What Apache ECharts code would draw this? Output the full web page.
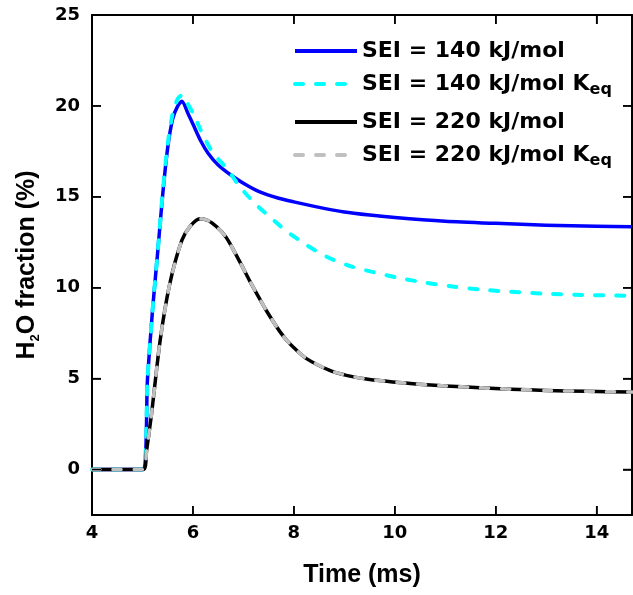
<!DOCTYPE html>
<html>
<head>
<meta charset="utf-8">
<script src="https://cdn.jsdelivr.net/npm/echarts@6/dist/echarts.min.js"></script>
<style>html,body{margin:0;padding:0;background:#fff}#c{width:633px;height:595px}</style>
</head>
<body>
<div id="c"></div>
<script>
// ---- data ----
const seriesNames = ['SEI = 140 kJ/mol', 'SEI = 140 kJ/mol Keq', 'SEI = 220 kJ/mol', 'SEI = 220 kJ/mol Keq'];
const xTicks = [4, 6, 8, 10, 12, 14];
const yTicks = [0, 5, 10, 15, 20, 25];
const xRange = [4, 14.7];
const yRange = [-2.5, 25];

const t140 = [4, 5, 5.1, 5.2, 5.3, 5.4, 5.5, 5.6, 5.7, 5.78, 5.9, 6.0, 6.15, 6.3, 6.5, 6.75, 7.0, 7.3, 7.7, 8.0, 8.5, 9.0, 9.5, 10, 11, 12, 13, 14, 14.7];
const v140 = [0, 0, 5, 8.8, 11.9, 15.1, 17.7, 19.3, 20.0, 20.25, 19.6, 19.0, 18.1, 17.4, 16.75, 16.2, 15.75, 15.3, 14.92, 14.72, 14.42, 14.17, 14.0, 13.86, 13.66, 13.54, 13.44, 13.38, 13.35];

const t140keq = [4, 5, 5.1, 5.2, 5.3, 5.4, 5.5, 5.6, 5.7, 5.79, 5.9, 6.0, 6.2, 6.4, 6.67, 6.93, 7.23, 7.52, 7.86, 8.25, 8.65, 9.1, 9.57, 10.06, 10.56, 11.1, 11.68, 12.3, 13.0, 13.8, 14.7];
const v140keq = [0, 0, 5, 8.8, 11.9, 15.2, 17.9, 19.6, 20.4, 20.6, 20.1, 19.6, 18.4, 17.4, 16.56, 15.55, 14.63, 13.9, 13.1, 12.35, 11.7, 11.2, 10.86, 10.55, 10.3, 10.08, 9.9, 9.78, 9.67, 9.6, 9.55];

const t220 = [4, 5.02, 5.08, 5.18, 5.35, 5.54, 5.78, 5.95, 6.14, 6.3, 6.47, 6.65, 6.8, 7.0, 7.13, 7.3, 7.46, 7.6, 7.72, 7.86, 8.0, 8.25, 8.71, 9.04, 9.5, 10.36, 11.0, 11.68, 12.3, 13.0, 13.8, 14.7];
const v220 = [0, 0, 1.0, 3.07, 7.1, 10.2, 12.6, 13.4, 13.8, 13.7, 13.35, 12.8, 12.1, 11.05, 10.35, 9.5, 8.72, 8.1, 7.6, 7.1, 6.7, 6.1, 5.45, 5.18, 4.95, 4.72, 4.6, 4.5, 4.42, 4.35, 4.3, 4.26];

const t220keq = [4, 5.02, 5.08, 5.18, 5.35, 5.54, 5.78, 5.95, 6.14, 6.3, 6.47, 6.65, 6.8, 7.0, 7.13, 7.3, 7.46, 7.6, 7.72, 7.86, 8.0, 8.25, 8.71, 9.04, 9.5, 10.36, 11.0, 11.68, 12.3, 13.0, 13.8, 14.7];
const v220keq = [0, 0, 1.0, 3.07, 7.1, 10.2, 12.6, 13.4, 13.8, 13.7, 13.35, 12.8, 12.1, 11.05, 10.35, 9.5, 8.72, 8.1, 7.6, 7.1, 6.7, 6.1, 5.45, 5.18, 4.95, 4.72, 4.6, 4.5, 4.42, 4.35, 4.3, 4.26];

function pairs(t, v) { return t.map((x, i) => [x, v[i]]); }
function onlyTicks(list) { return (val) => list.some(v => Math.abs(v - val) < 1e-6) ? String(val) : ''; }

const chart = echarts.init(document.getElementById('c'));
const tickFont = {fontFamily: 'DejaVu Sans', fontWeight: 'bold', fontSize: 18, color: '#000'};
const legendText = {
  fontFamily: 'DejaVu Sans', fontWeight: 'bold', fontSize: 22, lineHeight: 28, color: '#000',
  rich: { sub: {fontFamily: 'DejaVu Sans', fontWeight: 'bold', fontSize: 16, lineHeight: 7, verticalAlign: 'bottom', color: '#000'} }
};
function legendFmt(name) { return name.endsWith(' Keq') ? name.slice(0, -3) + 'K{sub|eq}' : name; }
function axisLine() { return {show: true, onZero: false, lineStyle: {color: '#000', width: 2}}; }
function axisTick() { return {show: true, inside: true, length: 9, lineStyle: {color: '#000', width: 1.5}}; }

function line(name, data, color, dashed, width) {
  return {
    name, type: 'line', data, showSymbol: false, symbol: 'none', smooth: 0.25,
    lineStyle: {color, width, type: dashed ? [8, 13] : 'solid', cap: dashed ? 'round' : 'butt', join: 'round'},
    itemStyle: {color}, emphasis: {disabled: true}
  };
}
function legendBase() {
  return {
    orient: 'vertical', left: 288, itemGap: 5, itemWidth: 62, itemHeight: 14,
    formatter: legendFmt, textStyle: legendText, selectedMode: false,
    itemStyle: {opacity: 0}, lineStyle: {width: 4}
  };
}

// Inward tick marks on all four sides, placed through the axes' own scales.
const TICK_LEN = 9;
const tickStyle = {stroke: '#000', lineWidth: 1.5};
function xTickItem(params, api) {
  const b = api.coord([api.value(0), yRange[0]]);
  const t = api.coord([api.value(0), yRange[1]]);
  return {type: 'group', children: [
    {type: 'line', shape: {x1: b[0], y1: b[1], x2: b[0], y2: b[1] - TICK_LEN}, style: tickStyle},
    {type: 'line', shape: {x1: t[0], y1: t[1], x2: t[0], y2: t[1] + TICK_LEN}, style: tickStyle}
  ]};
}
function yTickItem(params, api) {
  const l = api.coord([xRange[0], api.value(1)]);
  const r = api.coord([xRange[1], api.value(1)]);
  return {type: 'group', children: [
    {type: 'line', shape: {x1: l[0], y1: l[1], x2: l[0] + TICK_LEN, y2: l[1]}, style: tickStyle},
    {type: 'line', shape: {x1: r[0], y1: r[1], x2: r[0] - TICK_LEN, y2: r[1]}, style: tickStyle}
  ]};
}

chart.setOption({
  animation: false,
  grid: {left: 92, right: 1, top: 15, bottom: 80, containLabel: false},
  xAxis: [
    {type: 'value', min: xRange[0], max: xRange[1], interval: 2, position: 'bottom', axisLine: axisLine(), splitLine: {show: false}, axisTick: axisTick(),
     axisLabel: Object.assign({margin: 9, showMaxLabel: false, formatter: onlyTicks(xTicks)}, tickFont),
     name: 'Time (ms)', nameLocation: 'middle', nameGap: 48,
     nameTextStyle: {fontFamily: 'Liberation Sans', fontWeight: 'bold', fontSize: 25, color: '#000'}},
    {type: 'value', min: xRange[0], max: xRange[1], interval: 2, position: 'top', axisLine: axisLine(), splitLine: {show: false},
     axisTick: axisTick(), axisLabel: {show: false}}
  ],
  yAxis: [
    {type: 'value', min: yRange[0], max: yRange[1], splitNumber: 5, position: 'left', axisLine: axisLine(), splitLine: {show: false}, axisTick: axisTick(),
     axisLabel: Object.assign({margin: 12, showMinLabel: false, formatter: onlyTicks(yTicks)}, tickFont),
     name: 'H{sub|2}O fraction (%)', nameLocation: 'middle', nameGap: 50,
     nameTextStyle: {fontFamily: 'Liberation Sans', fontWeight: 'bold', fontSize: 25, lineHeight: 30, color: '#000',
       rich: {sub: {fontFamily: 'Liberation Sans', fontWeight: 'bold', fontSize: 13, lineHeight: 13, verticalAlign: 'bottom', color: '#000'}}}},
    {type: 'value', min: yRange[0], max: yRange[1], splitNumber: 5, position: 'right', axisLine: axisLine(), splitLine: {show: false},
     axisTick: axisTick(), axisLabel: {show: false}}
  ],
  legend: [
    Object.assign({data: [seriesNames[0], seriesNames[1]], top: 32}, legendBase()),
    Object.assign({data: [seriesNames[2], seriesNames[3]], top: 103}, legendBase())
  ],
  series: [
    line(seriesNames[0], pairs(t140, v140), '#0000ff', false, 3.5),
    line(seriesNames[1], pairs(t140keq, v140keq), '#00ffff', true, 4),
    line(seriesNames[2], pairs(t220, v220), '#000000', false, 3.5),
    line(seriesNames[3], pairs(t220keq, v220keq), '#c0c0c0', true, 3.5),
    {type: 'custom', name: 'xticks', silent: true, clip: false, z: 5, renderItem: xTickItem,
     data: xTicks.map(v => [v, 0]), encode: {x: 0, y: 1}, tooltip: {show: false}},
    {type: 'custom', name: 'yticks', silent: true, clip: false, z: 5, renderItem: yTickItem,
     data: yTicks.map(v => [xRange[0], v]), encode: {x: 0, y: 1}, tooltip: {show: false}}
  ]
});
</script>
</body>
</html>
